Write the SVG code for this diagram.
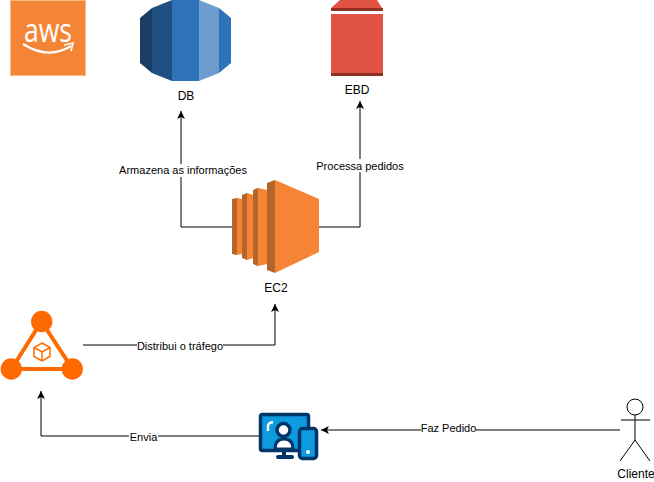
<svg xmlns="http://www.w3.org/2000/svg" width="654" height="482" viewBox="0 0 654 482">
<defs>
<style>
text{font-family:"Liberation Sans",Arial,sans-serif;font-size:11px;fill:#000;text-anchor:middle}
.c{fill:none;stroke:#000;stroke-width:1}
.lb{fill:#fff}
</style>
<marker id="a" markerUnits="userSpaceOnUse" markerWidth="9" markerHeight="10" refX="8" refY="4" orient="auto"><path d="M0 0L8 4L0 8L2 4Z" fill="#000"/></marker>
</defs>
<rect width="654" height="482" fill="#fff"/>
<g id="connectors">
<path class="c" d="M232 227H181V111" marker-end="url(#a)"/>
<path class="c" d="M319 227H360V101" marker-end="url(#a)"/>
<path class="c" d="M83 345H275V304" marker-end="url(#a)"/>
<path class="c" d="M259 436H41V391" marker-end="url(#a)"/>
<path class="c" d="M620 430H321" marker-end="url(#a)"/>
<rect class="lb" x="119" y="164" width="128" height="13"/>
<rect class="lb" x="316" y="159" width="88" height="13"/>
<rect class="lb" x="137" y="340" width="86" height="13"/>
<rect class="lb" x="129" y="430" width="29" height="13"/>
<rect class="lb" x="421" y="423" width="55" height="13"/>
<text x="183" y="174">Armazena as informações</text>
<text x="360" y="170">Processa pedidos</text>
<text x="180" y="350">Distribui o tráfego</text>
<text x="143.500" y="441">Envia</text>
<text x="448.500" y="432">Faz Pedido</text>
</g>
<g id="aws">
<rect x="10.500" y="0.500" width="75" height="75" fill="#f58536" stroke="#fbb98c"/>
<text x="48" y="42" style="font-size:32px;fill:#fff;font-family:'Open Sans',sans-serif" textLength="48" lengthAdjust="spacingAndGlyphs">aws</text>
<path d="M23 44Q48 60 71 46" fill="none" stroke="#fff" stroke-width="2.200"/>
<path d="M64 45L73 43L71 51" fill="none" stroke="#fff" stroke-width="1.600"/>
</g>
<g id="db">
<path d="M140 18L152 8V73L140 63Z" fill="#1a3d63"/>
<path d="M152 8L172 0V81L152 73Z" fill="#205081"/>
<rect x="172" y="0" width="27" height="81" fill="#2e73b8"/>
<path d="M199 0L219 8V73L199 81Z" fill="#6d9ccf"/>
<path d="M219 8L231 18V63L219 73Z" fill="#2e73b8"/>
<text x="186" y="100" style="font-size:12px">DB</text>
</g>
<g id="ebd">
<path d="M331 8L340 0H377L382 8Z" fill="#e05243"/>
<rect x="331" y="8" width="52" height="3" fill="#8c3123"/>
<rect x="331" y="14" width="52" height="62" fill="#e05243"/>
<rect x="331" y="73" width="52" height="3" fill="#8c3123"/>
<text x="357" y="94" style="font-size:12px">EBD</text>
</g>
<g id="ec2">
<path d="M232 199L237 198V255L232 254Z" fill="#b5642a"/>
<path d="M237 198L242 199V254L237 255Z" fill="#f58534"/>
<path d="M242 195L247 193V260L242 258Z" fill="#b5642a"/>
<path d="M247 193L253 195V258L247 260Z" fill="#f58534"/>
<path d="M253 190L258 188V266L253 264Z" fill="#b5642a"/>
<path d="M258 188L267 190V264L258 266Z" fill="#f58534"/>
<path d="M267 183L275 180V273L267 270Z" fill="#b5642a"/>
<path d="M275 180L319 199V252L275 273Z" fill="#f58534"/>
<text x="276" y="292" style="font-size:12px">EC2</text>
</g>
<g id="lb">
<path d="M41.500 321.500L72.500 369H11.500Z" fill="none" stroke="#ff6a00" stroke-width="4"/>
<circle cx="41.700" cy="321.500" r="10.700" fill="#ff6a00"/>
<circle cx="11.300" cy="369" r="10.700" fill="#ff6a00"/>
<circle cx="72.300" cy="369" r="10.700" fill="#ff6a00"/>
<path d="M42 343L50 347.500V356.500L42 361L34 356.500V347.500ZM34 347.500L42 352L50 347.500M42 352V361" fill="none" stroke="#ff6a00" stroke-width="1.500"/>
</g>
<g id="device">
<rect x="260.500" y="414.500" width="48" height="36" rx="2" fill="#0e9ade" stroke="#003567" stroke-width="3.500"/>
<path d="M268 431V426Q268 423 273 422" fill="none" stroke="#fff" stroke-width="2.500"/>
<path d="M275 449Q275 439 284 439Q293 439 293 449Z" fill="#fff" stroke="#003567" stroke-width="3"/>
<circle cx="283.500" cy="430" r="6.500" fill="#fff" stroke="#003567" stroke-width="3.500"/>
<rect x="282" y="450" width="4" height="6" fill="#003567"/>
<rect x="276" y="455" width="18" height="4" rx="2" fill="#003567"/>
<rect x="299.500" y="428.500" width="17" height="30" rx="3" fill="#0e9ade" stroke="#003567" stroke-width="3.500"/>
<circle cx="308" cy="452" r="2" fill="#fff"/>
</g>
<g id="cliente">
<circle cx="635" cy="407" r="8" fill="#fff" stroke="#000"/>
<path d="M635 415V440M621 420H650M635 440L620 461M635 440L650 461" fill="none" stroke="#000"/>
<text x="636" y="478" style="font-size:12px">Cliente</text>
</g>
</svg>
